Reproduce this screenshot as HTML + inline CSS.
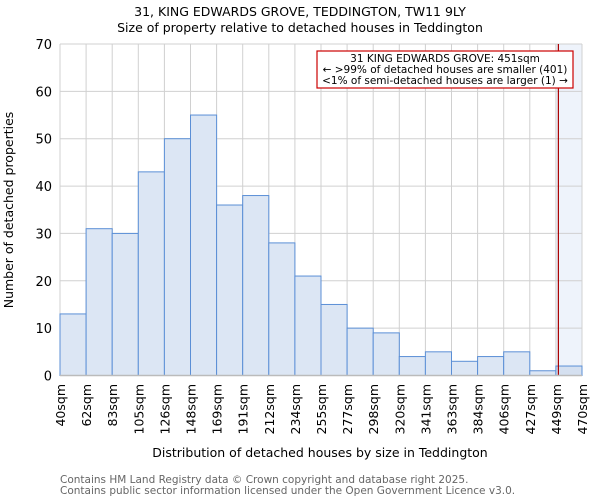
<!DOCTYPE html>
<html><head><meta charset="utf-8"><style>
body{margin:0;background:#fff;font-family:"DejaVu Sans","Liberation Sans",sans-serif}
</style></head><body>
<svg id="c" width="600" height="500" xmlns="http://www.w3.org/2000/svg" font-family="DejaVu Sans, Liberation Sans, sans-serif">
<text x="300" y="16" text-anchor="middle" font-size="12.5">31, KING EDWARDS GROVE, TEDDINGTON, TW11 9LY</text>
<text x="300" y="32" text-anchor="middle" font-size="12.5">Size of property relative to detached houses in Teddington</text>
<g id="grid"></g><g id="bars"></g><g id="axes"></g>
<text transform="translate(13,210) rotate(-90)" text-anchor="middle" font-size="12.5">Number of detached properties</text>
<text x="320" y="457" text-anchor="middle" font-size="12.5">Distribution of detached houses by size in Teddington</text>
<text x="60" y="483" font-size="10.5" fill="#666">Contains HM Land Registry data © Crown copyright and database right 2025.</text>
<text x="60" y="494" font-size="10.5" fill="#666">Contains public sector information licensed under the Open Government Licence v3.0.</text>
<g>
<rect x="317" y="51" width="256" height="37" fill="#fff" stroke="#c00" stroke-width="1.2"/>
<text x="445" y="62" text-anchor="middle" font-size="10.5">31 KING EDWARDS GROVE: 451sqm</text>
<text x="445" y="73" text-anchor="middle" font-size="10.5">← &gt;99% of detached houses are smaller (401)</text>
<text x="445" y="84" text-anchor="middle" font-size="10.5">&lt;1% of semi-detached houses are larger (1) →</text>
</g>
</svg>
<script>
const binLabels=["40sqm","62sqm","83sqm","105sqm","126sqm","148sqm","169sqm","191sqm","212sqm","234sqm","255sqm","277sqm","298sqm","320sqm","341sqm","363sqm","384sqm","406sqm","427sqm","449sqm","470sqm"];
const counts=[13,31,30,43,50,55,36,38,28,21,15,10,9,4,5,3,4,5,1,2];
const yTicks=[0,10,20,30,40,50,60,70];
const propertySize=451;
const highlightBin=19;
const X0=60,X1=582,Y0=375.5,Y1=44,YMAX=70;
const bw=(X1-X0)/counts.length;
const xb=i=>X0+i*bw;
const y=v=>Y0-(Y0-Y1)*v/YMAX;
const NS="http://www.w3.org/2000/svg";
function mk(t,a,p){const e=document.createElementNS(NS,t);for(const k in a)e.setAttribute(k,a[k]);p.appendChild(e);return e;}
const grid=document.getElementById('grid'),bars=document.getElementById('bars'),axes=document.getElementById('axes');
mk('rect',{x:xb(highlightBin),y:Y1,width:X1-xb(highlightBin),height:Y0-Y1,fill:'#eef3fb'},grid);
for(let i=0;i<binLabels.length;i++){const l=mk('line',{x1:xb(i),x2:xb(i),y1:Y1,y2:Y0,stroke:'#d0d0d0'},grid);
}
yTicks.forEach(v=>{const l=mk('line',{x1:X0,x2:X1,y1:y(v),y2:y(v),stroke:'#d0d0d0'},grid);

const t=mk('text',{x:X0-8,y:y(v)+5,'text-anchor':'end','font-size':'13'},axes);t.textContent=v;
});
counts.forEach((c,i)=>{const r=mk('rect',{x:xb(i),y:y(c),width:bw,height:Y0-y(c),fill:i===highlightBin?'#d5e0f0':'#dce6f4',stroke:'#5b8fd6','stroke-width':1},bars);
});
binLabels.forEach((s,i)=>{const t=mk('text',{transform:`translate(${xb(i)+5},384) rotate(-90)`,'text-anchor':'end','font-size':'12.5'},axes);t.textContent=s;
});
const lo=parseFloat(binLabels[highlightBin]),hi=parseFloat(binLabels[highlightBin+1]);
const mx=xb(highlightBin)+bw*(propertySize-lo)/(hi-lo);
const ml=mk('line',{x1:mx,x2:mx,y1:Y1,y2:Y0,stroke:'#a00','stroke-width':1.2},axes);

const ax=mk('line',{x1:X0,x2:X1,y1:Y0,y2:Y0,stroke:'#bbb','stroke-width':1.5},axes);

</script>
</body></html>
